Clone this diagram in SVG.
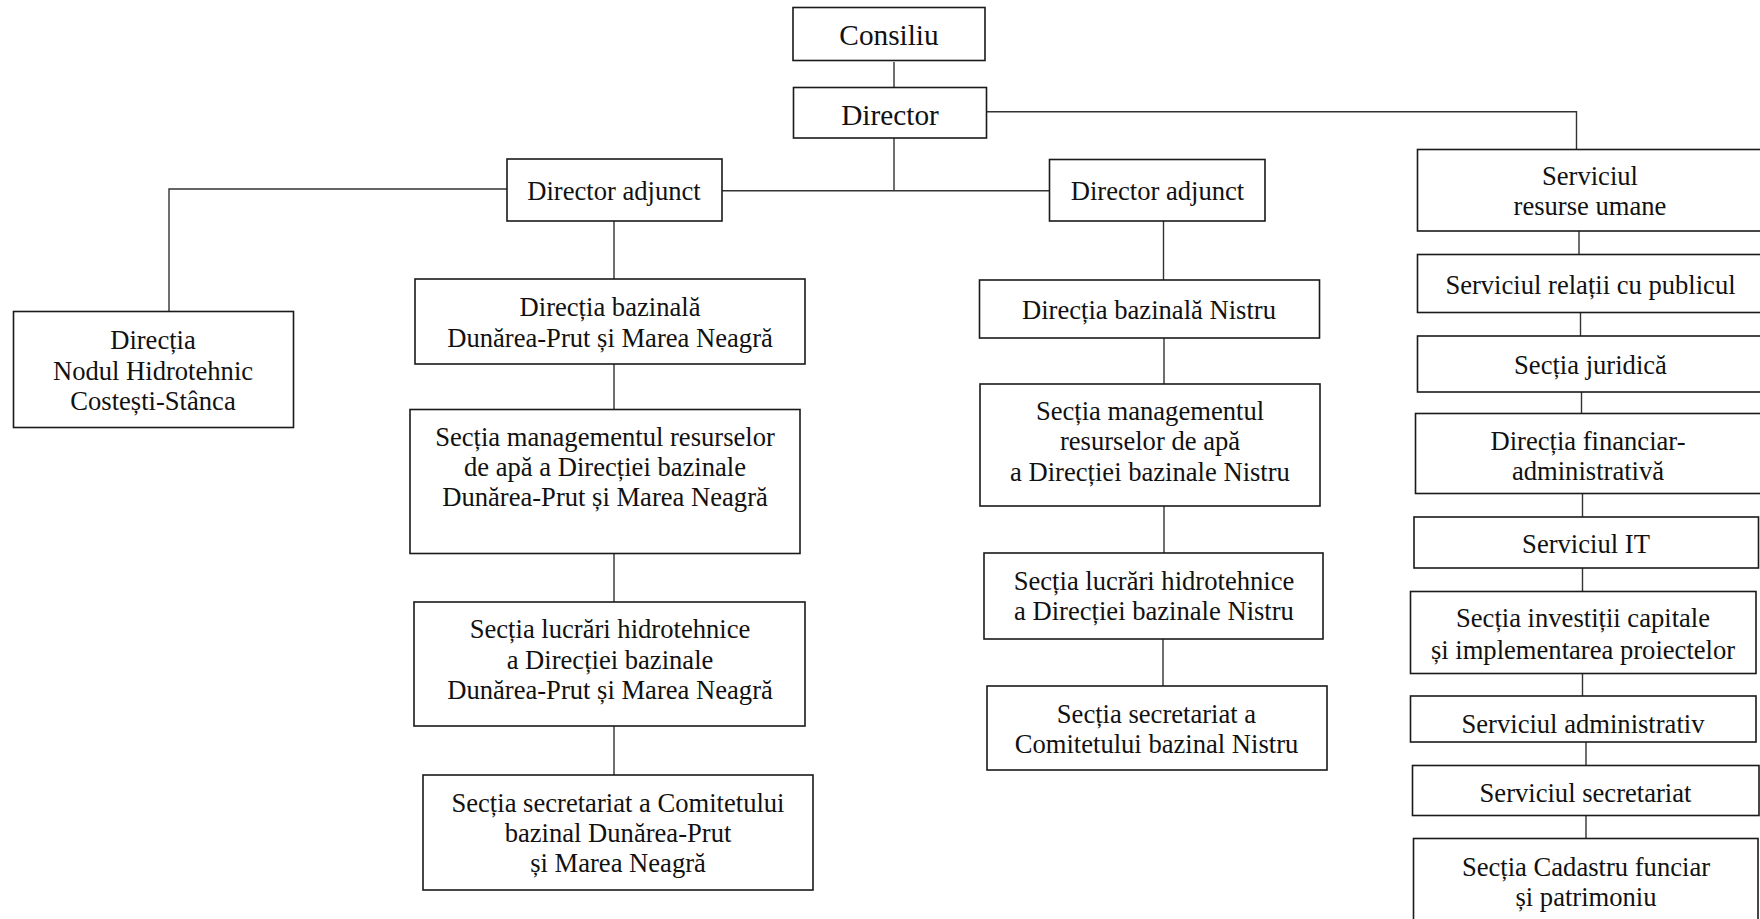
<svg xmlns="http://www.w3.org/2000/svg" width="1760" height="919" viewBox="0 0 1760 919">
<style>
.b{fill:#fff;stroke:#1a1a1a;stroke-width:1.6}
.c{fill:none;stroke:#333;stroke-width:1.4}
text{font-family:"Liberation Serif","Times New Roman",serif;font-size:26.6px;fill:#111;text-anchor:middle}
.big{font-size:29.3px}
</style>
<rect width="1760" height="919" fill="#fff"/>
<g id="connectors">
<path class="c" d="M894 62V87M894 138V190.7M722 190.7H1049.5M986 111.7H1576.5V149.5M507 189H169V311.5"/>
<path class="c" d="M614 221V279M614 364V409.5M614 553.5V602M614 726V775"/>
<path class="c" d="M1163.5 221V280M1164 338V384M1164 506V553M1163 639V686"/>
<path class="c" d="M1579 231V254.5M1580.5 312.5V336M1581.5 392V413.5M1582.5 493.5V517M1582.5 568V591.5M1582.5 673.5V696M1586 742V765.5M1586 815.5V838.5"/>
</g>
<g id="consiliu"><rect class="b" x="793" y="7.5" width="192" height="53"/><text class="big" x="889" y="45">Consiliu</text></g>
<g id="director"><rect class="b" x="793.5" y="87.5" width="193" height="50.5"/><text class="big" x="890" y="125">Director</text></g>
<g id="da-left"><rect class="b" x="507" y="159" width="215" height="62"/><text x="614" y="200">Director adjunct</text></g>
<g id="da-right"><rect class="b" x="1049.5" y="159.5" width="215.5" height="61.5"/><text x="1157.5" y="200">Director adjunct</text></g>
<g id="resurse-umane"><rect class="b" x="1417.5" y="149.5" width="350" height="81.5"/><text x="1590" y="185">Serviciul</text><text x="1590" y="215">resurse umane</text></g>
<g id="nodul"><rect class="b" x="13.5" y="311.5" width="280" height="116"/><text x="153" y="349">Direcția</text><text x="153" y="380">Nodul Hidrotehnic</text><text x="153" y="410">Costești-Stânca</text></g>
<g id="db-dp"><rect class="b" x="415" y="279" width="390" height="85"/><text x="610" y="316">Direcția bazinală</text><text x="610" y="346.5">Dunărea-Prut și Marea Neagră</text></g>
<g id="sm-dp"><rect class="b" x="410" y="409.5" width="390" height="144"/><text x="605" y="445.5">Secția managementul resurselor</text><text x="605" y="475.5">de apă a Direcției bazinale</text><text x="605" y="505.5">Dunărea-Prut și Marea Neagră</text></g>
<g id="sl-dp"><rect class="b" x="414" y="602" width="391" height="124"/><text x="610" y="638">Secția lucrări hidrotehnice</text><text x="610" y="668.5">a Direcției bazinale</text><text x="610" y="699">Dunărea-Prut și Marea Neagră</text></g>
<g id="ss-dp"><rect class="b" x="423" y="775" width="390" height="115"/><text x="618" y="811.5">Secția secretariat a Comitetului</text><text x="618" y="841.5">bazinal Dunărea-Prut</text><text x="618" y="871.5">și Marea Neagră</text></g>
<g id="db-nistru"><rect class="b" x="979.5" y="280" width="340" height="58"/><text x="1149" y="319">Direcția bazinală Nistru</text></g>
<g id="sm-nistru"><rect class="b" x="980" y="384" width="340" height="122"/><text x="1150" y="419.5">Secția managementul</text><text x="1150" y="450">resurselor de apă</text><text x="1150" y="480.5">a Direcției bazinale Nistru</text></g>
<g id="sl-nistru"><rect class="b" x="984" y="553" width="339" height="86"/><text x="1154" y="589.5">Secția lucrări hidrotehnice</text><text x="1154" y="620">a Direcției bazinale Nistru</text></g>
<g id="ss-nistru"><rect class="b" x="987" y="686" width="340" height="84"/><text x="1156.5" y="722.5">Secția secretariat a</text><text x="1156.5" y="753">Comitetului bazinal Nistru</text></g>
<g id="relatii"><rect class="b" x="1417.5" y="254.5" width="350" height="58"/><text x="1590.5" y="293.5">Serviciul relații cu publicul</text></g>
<g id="juridica"><rect class="b" x="1417.5" y="336" width="350" height="56"/><text x="1590.5" y="373.5">Secția juridică</text></g>
<g id="financiar"><rect class="b" x="1415.5" y="413.5" width="350" height="80"/><text x="1588" y="449.5">Direcția financiar-</text><text x="1588" y="479.5">administrativă</text></g>
<g id="it"><rect class="b" x="1414" y="517" width="344.5" height="51"/><text x="1586" y="552.5">Serviciul IT</text></g>
<g id="investitii"><rect class="b" x="1410.5" y="591.5" width="345.5" height="82"/><text x="1583" y="627">Secția investiții capitale</text><text x="1583" y="658.5">și implementarea proiectelor</text></g>
<g id="administrativ"><rect class="b" x="1410.5" y="696" width="345.5" height="46"/><text x="1583" y="732.5">Serviciul administrativ</text></g>
<g id="secretariat"><rect class="b" x="1412.5" y="765.5" width="346.5" height="50"/><text x="1585.5" y="801.5">Serviciul secretariat</text></g>
<g id="cadastru"><rect class="b" x="1413.5" y="838.5" width="344.5" height="100"/><text x="1586" y="876">Secția Cadastru funciar</text><text x="1586" y="906">și patrimoniu</text></g>
</svg>
